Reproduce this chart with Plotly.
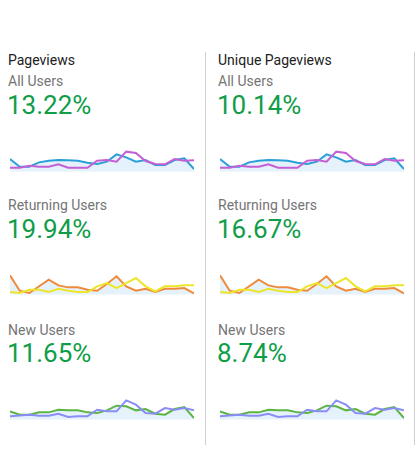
import plotly.graph_objects as go

W, H = 418, 451

# ---- data ----
metrics = ["Pageviews", "Unique Pageviews"]
segments = ["All Users", "Returning Users", "New Users"]
changes = [
    ["13.22%", "19.94%", "11.65%"],
    ["10.14%", "16.67%", "8.74%"],
]

days = list(range(20))

all_current = [38, 15, 15, 28, 33, 35, 34, 33, 27, 23, 30, 52, 43, 30, 35, 20, 20, 35, 40, 8]
all_previous = [12, 12, 18, 15, 15, 22, 12, 12, 12, 33, 35, 30, 60, 56, 32, 23, 22, 38, 33, 34]

ret_current = [58, 12, 5, 25, 45, 28, 22, 22, 15, 12, 32, 55, 25, 12, 18, 8, 18, 18, 20, 4]
ret_previous = [8, 5, 15, 15, 8, 18, 12, 8, 8, 25, 35, 20, 35, 50, 25, 10, 25, 25, 28, 28]

new_current = [25, 15, 15, 22, 22, 30, 28, 28, 22, 20, 28, 42, 40, 28, 32, 18, 15, 32, 38, 5]
new_previous = [10, 12, 15, 12, 12, 18, 8, 10, 10, 30, 25, 25, 58, 45, 20, 18, 35, 30, 35, 28]

series = [
    (all_current, all_previous, "#2a9fd8", "#c45fd5"),
    (ret_current, ret_previous, "#ef8a3c", "#eee52a"),
    (new_current, new_previous, "#5cb543", "#8b8df6"),
]

# ---- layout helpers (pixel -> paper) ----
def px_x(p):
    return p / W

def px_y(p):
    return 1 - p / H

col_left = [6, 216]
spark_x = [(10, 194), (220, 404)]
spark_top = [145, 268, 393]
title_y = 60
seg_y = [81, 205, 330]
num_y = [105, 229, 353]

fig = go.Figure()
layout_axes = {}
annotations = []

k = 0
for c, metric in enumerate(metrics):
    annotations.append(dict(
        text=metric, x=px_x(col_left[c]), y=px_y(title_y),
        xref="paper", yref="paper",
        xanchor="left", yanchor="middle", showarrow=False,
        font=dict(size=14, color="#212121"),
    ))
    for r, seg in enumerate(segments):
        k += 1
        cur, prev, c1, c2 = series[r]
        xa = "x" if k == 1 else f"x{k}"
        ya = "y" if k == 1 else f"y{k}"
        fig.add_trace(go.Scatter(
            x=days, y=cur, mode="lines", xaxis=xa, yaxis=ya,
            line=dict(color=c1, width=2), fill="tozeroy",
            fillcolor="rgba(210,232,247,0.55)", hoverinfo="skip",
        ))
        fig.add_trace(go.Scatter(
            x=days, y=prev, mode="lines", xaxis=xa, yaxis=ya,
            line=dict(color=c2, width=2), hoverinfo="skip",
        ))
        x0, x1 = spark_x[c]
        y0 = spark_top[r]
        layout_axes["xaxis" if k == 1 else f"xaxis{k}"] = dict(
            domain=[px_x(x0), px_x(x1)], range=[0, 19],
            visible=False, fixedrange=True,
        )
        layout_axes["yaxis" if k == 1 else f"yaxis{k}"] = dict(
            domain=[px_y(y0 + 26.7), px_y(y0)], range=[0, 80],
            visible=False, fixedrange=True,
        )

        annotations.append(dict(
            text=seg, x=px_x(col_left[c]), y=px_y(seg_y[r]),
            xref="paper", yref="paper",
            xanchor="left", yanchor="middle", showarrow=False,
            font=dict(size=14, color="#757575"),
        ))
        annotations.append(dict(
            text=changes[c][r], x=px_x(col_left[c] - 1), y=px_y(num_y[r]),
            xref="paper", yref="paper",
            xanchor="left", yanchor="middle", showarrow=False,
            font=dict(size=26, color="#0f9d48"),
        ))

shapes = [
    dict(type="line", xref="paper", yref="paper",
         x0=px_x(xp), x1=px_x(xp), y0=px_y(52), y1=px_y(445),
         line=dict(color="#cfcfcf", width=1))
    for xp in (205.5, 414.5)
]

fig.update_layout(
    width=W, height=H,
    margin=dict(l=0, r=0, t=0, b=0),
    paper_bgcolor="white", plot_bgcolor="white",
    showlegend=False,
    font=dict(family="Roboto, Arial, sans-serif"),
    annotations=annotations,
    shapes=shapes,
    **layout_axes,
)

fig.write_html("out.html", config={"displayModeBar": False},
               post_script="document.body.style.margin='0';")
